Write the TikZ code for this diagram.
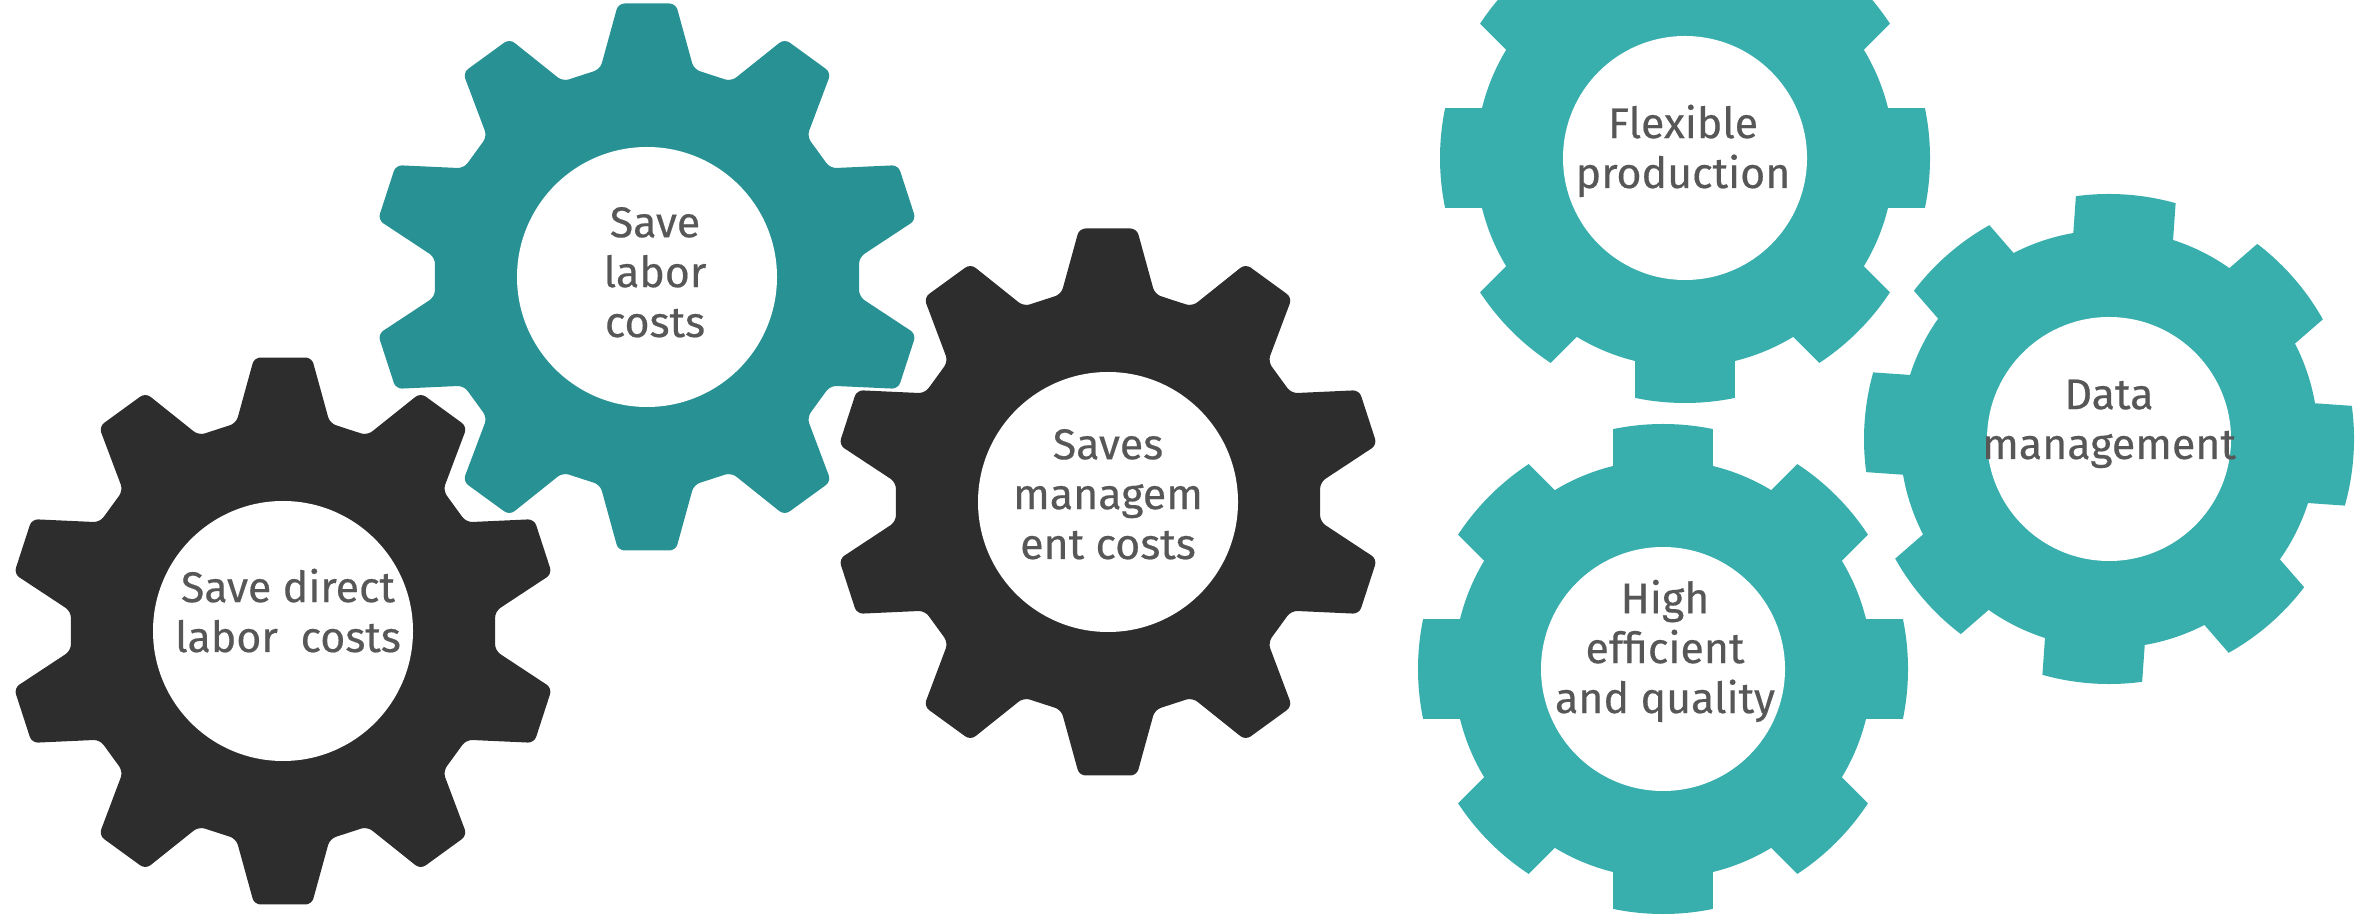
\documentclass[tikz,border=0pt]{standalone}
\usepackage{fontspec}
\setmainfont{Fira Sans}[FakeBold=0.4]
\definecolor{cogblack}{HTML}{2D2D2D}
\definecolor{cogteal}{HTML}{279194}
\definecolor{cogaqua}{HTML}{38AEAD}
\definecolor{coggray}{HTML}{575757}
\tikzset{
  toothed/.pic={
    \fill[#1, rounded corners=1.8pt] (72:212) \foreach \a in {90,126,...,414} {
        -- (\a-12.7:213) -- (\a-6:275) -- (\a+6:275) -- (\a+12.7:213)} -- cycle;
    \fill[white] (0,0) circle (130);
  },
  slotted/.pic={
    \begin{scope}
      \clip (0,0) circle (245);
      \fill[#1] (0,0) circle (209);
      \foreach \a in {0,45,...,315}
        \fill[#1, rotate=\a] (0,-50) rectangle (260,50);
    \end{scope}
    \fill[white] (0,0) circle (122);
  },
  cogtext/.style={text=coggray, align=center, inner sep=0pt, anchor=base,
    font=\fontsize{12.2}{14.2}\selectfont},
}
\begin{document}
\begin{tikzpicture}[x=0.1mm,y=0.1mm]
      \useasboundingbox (0,0) rectangle (2371,917);
      \clip (0,0) rectangle (2371,917);
      % cost gears
      \pic at (283,286) {toothed=cogblack};
      \pic at (647,640) {toothed=cogteal};
      \pic at (1108,415) {toothed=cogblack};
      % benefit gears
      \pic at (1685,759) {slotted=cogaqua};
      \pic[rotate=-4] at (2109,478) {slotted=cogaqua};
      \pic at (1663,248) {slotted=cogaqua};
      % labels, anchored on the last line
      \node[cogtext] (direct) at (288,265) {Save direct\\labor\ \ costs};
      \node[cogtext] (labor) at (655,580) {Save\\labor\\costs};
      \node[cogtext] (manage) at (1108,358) {Saves\\managem\\ent costs};
      \node[cogtext] (flex) at (1683,729) {Flexible\\production};
      \node[cogtext] (data) at (2109,458) {Data\\management};
      \node[cogtext] (quality) at (1665,204) {High\\efficient\\and quality};
    \end{tikzpicture}
\end{document}
